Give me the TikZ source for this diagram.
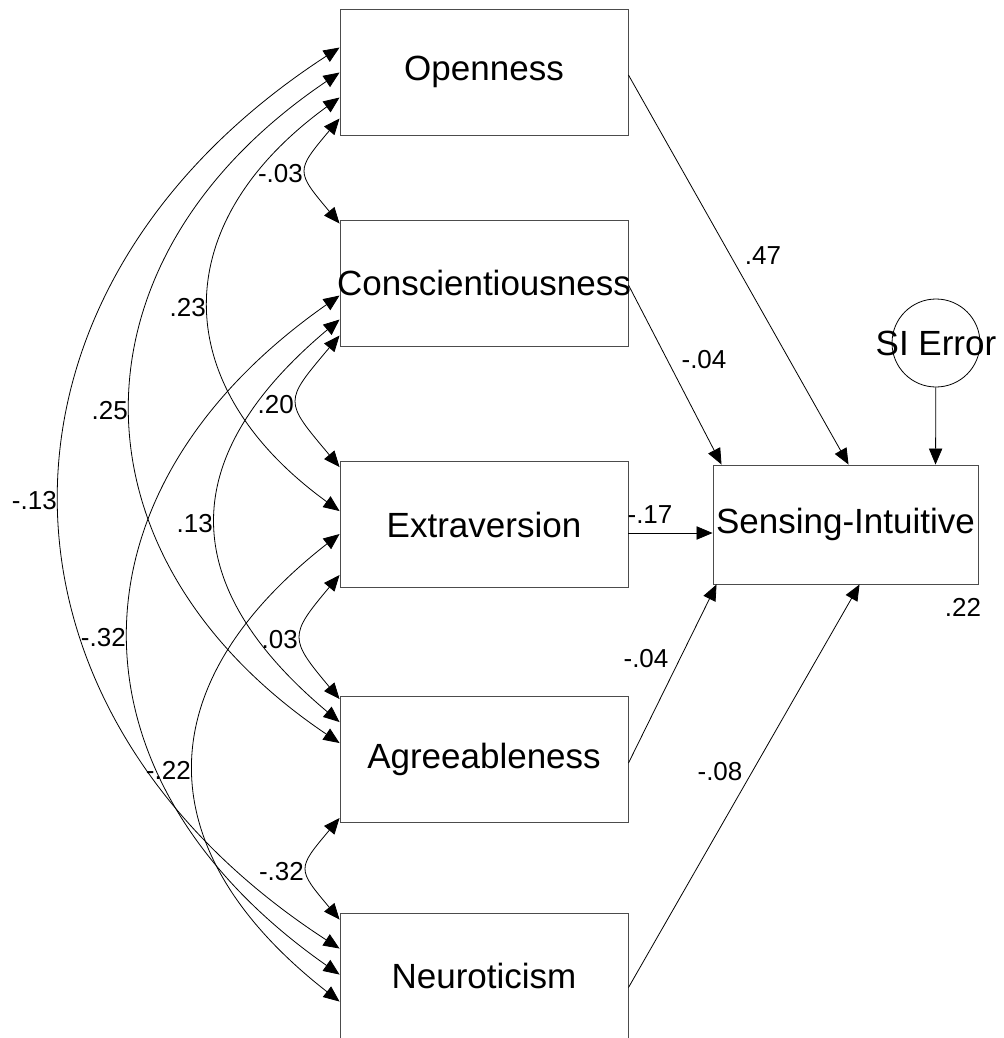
\documentclass[tikz,border=0pt]{standalone}
\usepackage{fontspec}
\setmainfont{Liberation Sans}
\usetikzlibrary{arrows.meta,calc}

% Double-headed covariance curve between two points on the left edges of the
% boxes: #3 = how far the curve bulges to the left (px), #4 = angle of the
% curve at its ends (degrees from horizontal), #5 = coefficient.
\newcommand\covarc[5]{%
  \pgfmathsetmacro\covkx{#3/0.75}%
  \pgfmathsetmacro\covky{#3/0.75*tan(#4)}%
  \draw[cov] (#1) .. controls +(-\covkx,\covky) and +(-\covkx,-\covky) .. (#2)
    node[coef,pos=0.5,anchor=east,xshift=-1.5pt,yshift=-2.25pt] {#5};%
}

\begin{document}
\begin{tikzpicture}[x=0.75pt,y=-0.75pt,
  varbox/.style={draw=black!70, line width=0.7pt, minimum width=216pt,
    minimum height=94.5pt, inner sep=0pt, font=\fontsize{26.25}{30}\selectfont},
  tip/.style={Triangle[length=12pt,width=10pt]},
  reg/.style={line width=0.6pt, -{Triangle[length=12pt,width=10pt]}},
  cov/.style={line width=0.6pt,
    {Triangle[length=12pt,width=10pt]}-{Triangle[length=12pt,width=10pt]}},
  coef/.style={font=\fontsize{19.5}{22}\selectfont, inner sep=1pt}]

\useasboundingbox (0,0) rectangle (1003,1038);

% observed variables
\node[varbox] (O) at (484,72)    {Openness};
\node[varbox] (C) at (484,283)   {\makebox[0pt]{Conscientiousness}};
\node[varbox] (E) at (484,524.5) {Extraversion};
\node[varbox] (A) at (484,759.5) {Agreeableness};
\node[varbox] (N) at (484,976)   {Neuroticism};
\node[varbox, minimum width=198.75pt, minimum height=89.25pt] (SI)
  at (845.5,524.5) {\makebox[0pt]{Sensing-Intuitive}};

% error term
\node[draw, line width=0.6pt, circle, minimum size=66pt, inner sep=0pt,
  font=\fontsize{26.25}{30}\selectfont] (SIE) at (936,343) {\makebox[0pt]{SI Error}};

% end points of the covariance curves on the left edges
\coordinate (o1) at ($(O.north west)+(0,39)$);
\coordinate (o2) at ($(O.north west)+(0,64)$);
\coordinate (o3) at ($(O.north west)+(0,89)$);
\coordinate (o4) at ($(O.north west)+(0,110)$);
\coordinate (c1) at ($(C.north west)+(0,4)$);
\coordinate (c2) at ($(C.north west)+(0,76)$);
\coordinate (c3) at ($(C.north west)+(0,100)$);
\coordinate (c4) at ($(C.north west)+(0,116)$);
\coordinate (e1) at ($(E.north west)+(0,6)$);
\coordinate (e2) at ($(E.north west)+(0,50)$);
\coordinate (e3) at ($(E.north west)+(0,73)$);
\coordinate (e4) at ($(E.north west)+(0,114)$);
\coordinate (a1) at ($(A.north west)+(0,3)$);
\coordinate (a2) at ($(A.north west)+(0,26)$);
\coordinate (a3) at ($(A.north west)+(0,47)$);
\coordinate (a4) at ($(A.north west)+(0,122)$);
\coordinate (n1) at ($(N.north west)+(0,7)$);
\coordinate (n2) at ($(N.north west)+(0,36)$);
\coordinate (n3) at ($(N.north west)+(0,62)$);
\coordinate (n4) at ($(N.north west)+(0,89)$);

% covariances
\covarc{o4}{c1}{33}{50}{-.03}
\covarc{o3}{e2}{130}{36}{.23}
\covarc{o2}{a3}{208}{34}{.25}
\covarc{o1}{n2}{279}{33}{-.13}
\covarc{c4}{e1}{42}{50}{.20}
\covarc{c3}{a2}{123}{40}{.13}
\covarc{c2}{n3}{210}{35}{-.32}
\covarc{e4}{a1}{38}{50}{.03}
\covarc{e3}{n4}{145}{38}{-.22}
\covarc{a4}{n1}{32}{50}{-.32}

% regression paths
\draw[reg] ($(O.east)+(0,3)$) -- ($(SI.north west)+(136,0)$);
\draw[reg] ($(C.east)+(0,2)$) -- ($(SI.north west)+(9,0)$);
\draw[reg] ($(E.east)+(0,8.5)$) -- ($(SI.west)+(0,8.5)$);
\draw[reg] ($(A.north east)+(0,67)$) -- ($(SI.south west)+(4,0)$);
\draw[reg] ($(N.north east)+(0,75)$) -- ($(SI.south west)+(147,0)$);
\draw[reg] (SIE) -- ($(SI.north west)+(223,0)$);

% path coefficients and explained variance
\node[coef] (bO)  at (763,256) {.47};
\node[coef] (bC)  at (704,360) {-.04};
\node[coef] (bE)  at (650,515) {-.17};
\node[coef] (bA)  at (646,659) {-.04};
\node[coef] (bN)  at (720,772) {-.08};
\node[coef] (rsq) at (963,607) {.22};
\end{tikzpicture}
\end{document}
